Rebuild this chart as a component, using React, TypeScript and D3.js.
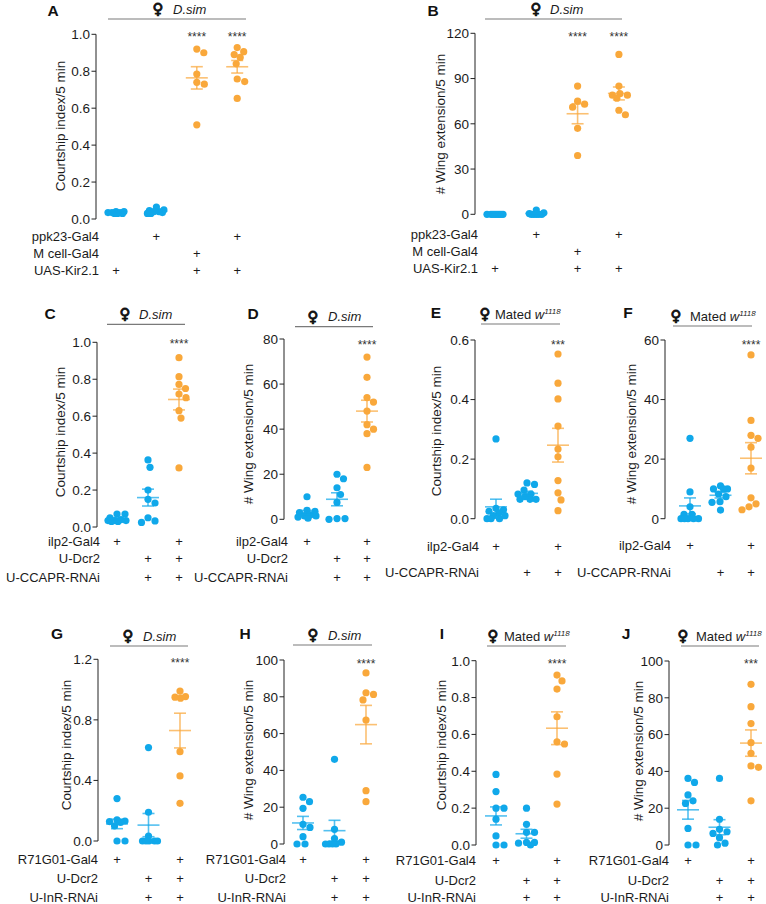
import React from 'react';
import * as d3 from 'd3';

// ---------- DATA ----------
// Panel A: courtship index (D.sim females)
const aKirCtrl = [0.04, 0.035, 0.03, 0.04, 0.035, 0.03, 0.03, 0.035];
const aPpk23Ctrl = [0.04, 0.065, 0.05, 0.035, 0.03, 0.045, 0.03, 0.04];
const aMcellKir = [0.9, 0.92, 0.785, 0.74, 0.73, 0.51];
const aPpk23Kir = [0.906, 0.928, 0.89, 0.875, 0.84, 0.758, 0.744, 0.653];
// Panel B: wing extension
const bKirCtrl = [0, 0, 0, 0, 0, 0, 0, 0];
const bPpk23Ctrl = [2.8, 1, 0.5, 0, 0, 0, 0, 0];
const bMcellKir = [85, 75, 71, 73, 57, 39];
const bPpk23Kir = [106, 85, 79, 80, 79, 77, 69, 66];
// Panel C
const cIlp2 = [0.07, 0.07, 0.05, 0.04, 0.035, 0.035, 0.03, 0.03, 0.035];
const cDcrRnai = [0.363, 0.323, 0.2, 0.15, 0.13, 0.025, 0.05, 0.033];
const cAll = [0.917, 0.814, 0.772, 0.75, 0.72, 0.7, 0.63, 0.59, 0.32];
// Panel D
const dIlp2 = [10, 4, 3.5, 3, 2, 1.5, 1.5, 1, 0.5];
const dDcrRnai = [20, 18, 14, 11, 7.5, 0.3, 0.3, 0];
const dAll = [72, 63, 54, 52, 48, 40, 42, 38, 23];
// Panel E
const eIlp2 = [0.268, 0.03, 0.035, 0.02, 0.025, 0.01, 0, 0, 0, 0.01];
const eRnai = [0.12, 0.115, 0.096, 0.083, 0.083, 0.065, 0.065, 0.065, 0.074];
const eAll = [0.553, 0.455, 0.402, 0.311, 0.234, 0.208, 0.128, 0.087, 0.063, 0.027];
// Panel F
const fIlp2 = [27, 9, 4, 1.5, 1.5, 0, 0, 0, 0, 0];
const fRnai = [11, 10, 10, 10, 8.3, 7.4, 5.7, 5.5, 2.9];
const fAll = [55, 33, 28, 27, 24, 17, 7, 5, 4, 3];
// Panel G
const gR71 = [0.28, 0.128, 0.139, 0.132, 0.123, 0.1, 0, 0];
const gDcrRnai = [0.617, 0.19, 0.033, 0, 0, 0, 0, 0];
const gAll = [0.99, 0.954, 0.943, 0.95, 0.59, 0.43, 0.249];
// Panel H
const hR71 = [25.4, 23, 19.4, 10.7, 9, 4, 0, 0];
const hDcrRnai = [46, 8, 3, 1, 0, 0, 0, 0];
const hAll = [93, 81.3, 82.2, 78.3, 67.4, 29, 23];
// Panel I
const iR71 = [0.383, 0.29, 0.2, 0.2, 0.14, 0.049, 0, 0];
const iDcrRnai = [0.2, 0.112, 0.069, 0.069, 0.014, 0.014, 0, 0.01];
const iAll = [0.922, 0.89, 0.846, 0.696, 0.548, 0.56, 0.385, 0.222];
// Panel J
const jR71 = [36.2, 34, 27.2, 24, 22.6, 9, 0, 0];
const jDcrRnai = [36.2, 14, 8.5, 7.2, 6.3, 4, 0, 1];
const jAll = [87.3, 75.2, 66, 55.6, 49.8, 43, 42.2, 24];

// genotype tables
const genotypesAB = ['ppk23-Gal4', 'M cell-Gal4', 'UAS-Kir2.1'];
const marksAB = [[0, 1, 0, 1], [0, 0, 1, 0], [1, 0, 1, 1]];
const genotypesCD = ['ilp2-Gal4', 'U-Dcr2', 'U-CCAPR-RNAi'];
const marksCD = [[1, 0, 1], [0, 1, 1], [0, 1, 1]];
const genotypesEF = ['ilp2-Gal4', 'U-CCAPR-RNAi'];
const marksEF = [[1, 0, 1], [0, 1, 1]];
const genotypesGJ = ['R71G01-Gal4', 'U-Dcr2', 'U-InR-RNAi'];
const marksGJ = [[1, 0, 1], [0, 1, 1], [0, 1, 1]];

// ticks
const ticksCI10 = [0, 0.2, 0.4, 0.6, 0.8, 1.0];
const ticksWE120 = [0, 30, 60, 90, 120];
const ticksWE80 = [0, 20, 40, 60, 80];
const ticksCI06 = [0, 0.2, 0.4, 0.6];
const ticksWE60 = [0, 20, 40, 60];
const ticksCI12 = [0, 0.4, 0.8, 1.2];
const ticksWE100 = [0, 20, 40, 60, 80, 100];

const starsAB = ['', '', '****', '****'];
const starsE = ['', '', '***'];
const starsJ = ['', '', '***'];
const stars4 = ['', '', '****'];

const CI = 'Courtship index/5 min';
const WE = '# Wing extension/5 min';

// ---------- STYLE ----------
const BLUE = '#10A8EA';
const ORANGE = '#F9A83B';
const FONT = '"Liberation Sans", Arial, Helvetica, sans-serif';
const TXT = '#1b1b1b';

const colors4 = [BLUE, BLUE, ORANGE, ORANGE];
const colors3 = [BLUE, BLUE, ORANGE];

// ---------- LAYOUT ----------
const panels = [
  { id: 'A', lx: 53, ly: 10, hx1: 108, hx2: 246, hy: 19, sym: 158, txt: 173, mated: false,
    ax: 96, yb: 219, yt: 34.3, domain: [0, 1], ticks: ticksCI10, fmt: '.1f',
    gx: 116, gs: 40.4, groups: [aKirCtrl, aPpk23Ctrl, aMcellKir, aPpk23Kir], colors: colors4,
    rowsY: [236, 253, 270], labelX: 99, genotypes: genotypesAB, marks: marksAB,
    ylx: 60, yly: 126, ylab: CI, starY: 33, stars: starsAB },
  { id: 'B', lx: 433, ly: 10, hx1: 485, hx2: 622, hy: 19, sym: 536, txt: 550, mated: false,
    ax: 475, yb: 214.3, yt: 33.3, domain: [0, 120], ticks: ticksWE120, fmt: 'd',
    gx: 495, gs: 41.3, groups: [bKirCtrl, bPpk23Ctrl, bMcellKir, bPpk23Kir], colors: colors4,
    rowsY: [234, 251, 268], labelX: 478, genotypes: genotypesAB, marks: marksAB,
    ylx: 440, yly: 124, ylab: WE, starY: 33, stars: starsAB },
  { id: 'C', lx: 50, ly: 313, hx1: 107, hx2: 185, hy: 324.3, sym: 125, txt: 139, mated: false,
    ax: 97, yb: 527, yt: 342.3, domain: [0, 1], ticks: ticksCI10, fmt: '.1f',
    gx: 117, gs: 31, groups: [cIlp2, cDcrRnai, cAll], colors: colors3,
    rowsY: [541, 558, 577], labelX: 100, genotypes: genotypesCD, marks: marksCD,
    ylx: 60, yly: 432, ylab: CI, starY: 340, stars: stars4 },
  { id: 'D', lx: 253, ly: 313, hx1: 295, hx2: 373, hy: 326.7, sym: 313, txt: 328, mated: false,
    ax: 284, yb: 519.3, yt: 339, domain: [0, 80], ticks: ticksWE80, fmt: 'd',
    gx: 307, gs: 30, groups: [dIlp2, dDcrRnai, dAll], colors: colors3,
    rowsY: [541, 558, 577], labelX: 288, genotypes: genotypesCD, marks: marksCD,
    ylx: 248, yly: 434, ylab: WE, starY: 341, stars: stars4 },
  { id: 'E', lx: 436, ly: 312, hx1: 481, hx2: 560, hy: 324, sym: 485, txt: 495, mated: true,
    ax: 475, yb: 518.7, yt: 340, domain: [0, 0.6], ticks: ticksCI06, fmt: '.1f',
    gx: 496, gs: 31, groups: [eIlp2, eRnai, eAll], colors: colors3,
    rowsY: [546, 572], labelX: 479, genotypes: genotypesEF, marks: marksEF,
    ylx: 436, yly: 431, ylab: CI, starY: 341, stars: starsE },
  { id: 'F', lx: 628, ly: 312, hx1: 673, hx2: 752, hy: 326, sym: 676, txt: 690, mated: true,
    ax: 665, yb: 518.7, yt: 340, domain: [0, 60], ticks: ticksWE60, fmt: 'd',
    gx: 690, gs: 30.5, groups: [fIlp2, fRnai, fAll], colors: colors3,
    rowsY: [545, 572], labelX: 671, genotypes: genotypesEF, marks: marksEF,
    ylx: 631, yly: 434, ylab: WE, starY: 341, stars: stars4 },
  { id: 'G', lx: 57, ly: 633, hx1: 110, hx2: 188, hy: 646, sym: 128, txt: 143, mated: false,
    ax: 98, yb: 841, yt: 659.3, domain: [0, 1.2], ticks: ticksCI12, fmt: '.1f',
    gx: 117, gs: 31.5, groups: [gR71, gDcrRnai, gAll], colors: colors3,
    rowsY: [859, 878, 897], labelX: 98, genotypes: genotypesGJ, marks: marksGJ,
    ylx: 66, yly: 745, ylab: CI, starY: 659, stars: stars4 },
  { id: 'H', lx: 245, ly: 633, hx1: 293, hx2: 372, hy: 645, sym: 313, txt: 328, mated: false,
    ax: 284, yb: 844, yt: 660, domain: [0, 100], ticks: ticksWE100, fmt: 'd',
    gx: 303, gs: 31.5, groups: [hR71, hDcrRnai, hAll], colors: colors3,
    rowsY: [859, 878, 897], labelX: 286, genotypes: genotypesGJ, marks: marksGJ,
    ylx: 248, yly: 750, ylab: WE, starY: 660, stars: stars4 },
  { id: 'I', lx: 442, ly: 633, hx1: 487, hx2: 566, hy: 646, sym: 493, txt: 504, mated: true,
    ax: 476, yb: 845, yt: 660.7, domain: [0, 1], ticks: ticksCI10, fmt: '.1f',
    gx: 496, gs: 30.5, groups: [iR71, iDcrRnai, iAll], colors: colors3,
    rowsY: [860, 880, 897], labelX: 476, genotypes: genotypesGJ, marks: marksGJ,
    ylx: 441, yly: 745, ylab: CI, starY: 660, stars: stars4 },
  { id: 'J', lx: 626, ly: 633, hx1: 681, hx2: 759, hy: 646, sym: 683, txt: 696, mated: true,
    ax: 669, yb: 845, yt: 661, domain: [0, 100], ticks: ticksWE100, fmt: 'd',
    gx: 688, gs: 31.5, groups: [jR71, jDcrRnai, jAll], colors: colors3,
    rowsY: [860, 880, 897], labelX: 669, genotypes: genotypesGJ, marks: marksGJ,
    ylx: 638, yly: 751, ylab: WE, starY: 660, stars: starsJ },
];

const R = 3.6;

function swarm(values: number[], y: (v: number) => number, r: number, maxOff = 9) {
  const order = values.map((_, i) => i).sort((a, b) => values[b] - values[a]);
  const placed: { x: number; y: number }[] = [];
  const offs = new Array(values.length).fill(0);
  const dmin = 2 * r + 0.4;
  const cands: number[] = [0];
  for (let k = 0.5; k <= maxOff; k += 0.5) cands.push(k, -k);
  for (const i of order) {
    const py = y(values[i]);
    let best = 0;
    let bestScore = -Infinity;
    for (const c of cands) {
      let minD = Infinity;
      for (const p of placed) {
        const d = Math.hypot(c - p.x, py - p.y);
        if (d < minD) minD = d;
      }
      if (minD >= dmin) { best = c; break; }
      if (minD > bestScore) { bestScore = minD; best = c; }
    }
    placed.push({ x: best, y: py });
    offs[i] = best;
  }
  return offs;
}

function Panel({ p }: { p: any }) {
  const y = d3.scaleLinear().domain(p.domain).range([p.yb, p.yt]);
  const gx = d3.scaleLinear().domain([0, 1]).range([p.gx, p.gx + p.gs]);
  const fmt = d3.format(p.fmt);
  return (
    <g>
      {/* panel letter */}
      <text x={p.lx} y={p.ly + 5.5} textAnchor="middle" fontSize={15.5} fontWeight="bold" fill="#111">{p.id}</text>
      {/* header */}
      <text x={p.sym} y={p.hy - 5} textAnchor="middle" fontSize={15} fontWeight="bold" fill="#111"
        stroke="#111" strokeWidth={0.9}
        style={{ fontFamily: '"DejaVu Sans", sans-serif' }}>♀</text>
      {p.mated ? (
        <text x={p.txt} y={p.hy - 5.5} fontSize={13} fill={TXT}>
          Mated <tspan fontStyle="italic">w</tspan>
          <tspan fontStyle="italic" fontSize={8} dy={-5}>1118</tspan>
        </text>
      ) : (
        <text x={p.txt} y={p.hy - 5.5} fontSize={13} fontStyle="italic" fill={TXT}>D.sim</text>
      )}
      <line x1={p.hx1} x2={p.hx2} y1={p.hy} y2={p.hy} stroke="#7a7a7a" strokeWidth={1.2} />
      {/* y axis */}
      <line x1={p.ax} x2={p.ax} y1={y(p.domain[0])} y2={y(p.domain[1])} stroke="#222" strokeWidth={1} />
      {p.ticks.map((t: number) => (
        <g key={t}>
          <line x1={p.ax - 4.5} x2={p.ax} y1={y(t)} y2={y(t)} stroke="#222" strokeWidth={1} />
          <text x={p.ax - 6} y={y(t) + 4.8} textAnchor="end" fontSize={13.5} fill={TXT}>{fmt(t)}</text>
        </g>
      ))}
      <text transform={`translate(${p.ylx},${p.yly}) rotate(-90)`} textAnchor="middle" dominantBaseline="central"
        fontSize={13.5} fill={TXT}>{p.ylab}</text>
      {/* groups */}
      {p.groups.map((vals: number[], gi: number) => {
        const cx = gx(gi);
        const col = p.colors[gi];
        const offs = swarm(vals, y, R);
        const m = d3.mean(vals) as number;
        const sem = (d3.deviation(vals) as number) / Math.sqrt(vals.length);
        return (
          <g key={gi}>
            {vals.map((v, i) => (
              <circle key={i} cx={cx + offs[i]} cy={y(v)} r={R} fill={col} />
            ))}
            <g stroke={col} strokeOpacity={0.72} strokeWidth={1.6} fill="none">
              <line x1={cx - 11} x2={cx + 11} y1={y(m)} y2={y(m)} />
              <line x1={cx} x2={cx} y1={y(Math.max(0, m - sem))} y2={y(m + sem)} />
              <line x1={cx - 6} x2={cx + 6} y1={y(m + sem)} y2={y(m + sem)} />
              <line x1={cx - 6} x2={cx + 6} y1={y(Math.max(0, m - sem))} y2={y(Math.max(0, m - sem))} />
            </g>
            {p.stars[gi] ? (
              <text x={cx} y={p.starY + 7.5} textAnchor="middle" fontSize={12} fill="#333">{p.stars[gi]}</text>
            ) : null}
          </g>
        );
      })}
      {/* genotype rows */}
      {p.genotypes.map((g: string, ri: number) => (
        <g key={g}>
          <text x={p.labelX} y={p.rowsY[ri] + 4.5} textAnchor="end" fontSize={13} fill={TXT}>{g}</text>
          {p.marks[ri].map((mk: number, gi: number) =>
            mk ? (
              <text key={gi} x={gx(gi)} y={p.rowsY[ri] + 4.5} textAnchor="middle" fontSize={13} fill={TXT}>+</text>
            ) : null
          )}
        </g>
      ))}
    </g>
  );
}

export default function App() {
  return (
    <svg width={766} height={904} style={{ position: 'absolute', left: 0, top: 0, background: '#fff', fontFamily: FONT }}
      fontFamily={FONT}>
      <rect width={766} height={904} fill="#fff" />
      {panels.map((p) => (
        <Panel key={p.id} p={p} />
      ))}
    </svg>
  );
}
